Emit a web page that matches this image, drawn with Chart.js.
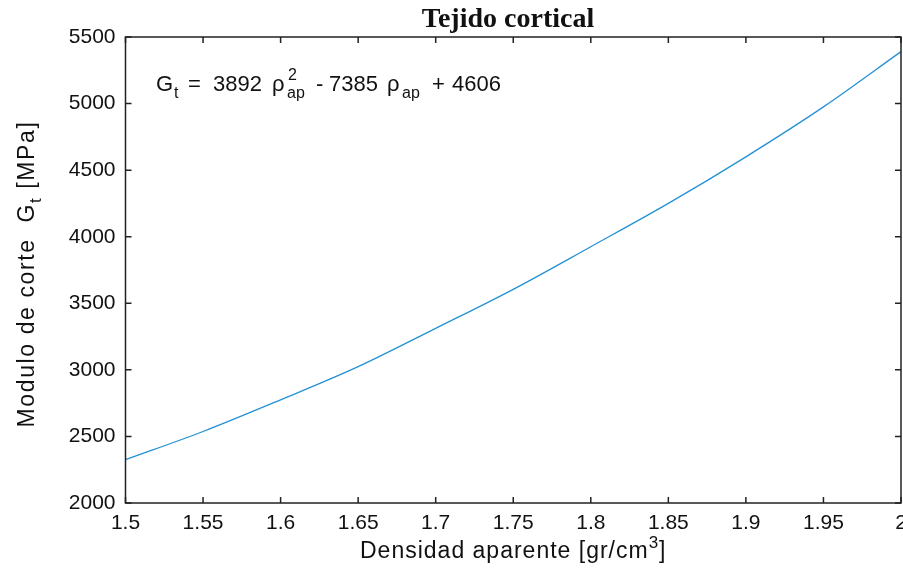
<!DOCTYPE html>
<html>
<head>
<meta charset="utf-8">
<script src="https://cdn.jsdelivr.net/npm/chart.js@4"></script>
<style>
  html, body { margin: 0; padding: 0; background: #fff; }
  #wrap { width: 903px; height: 570px; }
</style>
</head>
<body>
<div id="wrap"><canvas id="chart" width="903" height="570"></canvas></div>
<script>
// values
const density = [1.5, 1.55, 1.6, 1.65, 1.7, 1.75, 1.8, 1.85, 1.9, 1.95, 2.0];
const modulus = [2325, 2537, 2775, 3024, 3312, 3605, 3925, 4250, 4600, 4975, 5390];
const xTicks = [1.5, 1.55, 1.6, 1.65, 1.7, 1.75, 1.8, 1.85, 1.9, 1.95, 2];
const yTicks = [2000, 2500, 3000, 3500, 4000, 4500, 5000, 5500];

const labelFont = '"Liberation Sans", Arial, sans-serif';

// pieces of a line of text: [text, size, baseline shift]
function drawPieces(ctx, parts, x, y, spacing) {
    let cx = x;
    parts.forEach(p => {
        ctx.font = p[1] + 'px ' + labelFont;
        ctx.letterSpacing = (spacing || 0) + 'px';
        ctx.fillText(p[0], cx, y + p[2]);
        cx += ctx.measureText(p[0]).width;
    });
    ctx.letterSpacing = '0px';
    return cx - x;
}
function piecesWidth(ctx, parts, spacing) {
    let w = 0;
    parts.forEach(p => {
        ctx.font = p[1] + 'px ' + labelFont;
        ctx.letterSpacing = (spacing || 0) + 'px';
        w += ctx.measureText(p[0]).width;
    });
    ctx.letterSpacing = '0px';
    return w;
}

// box, inward ticks, titles and the equation
const decor = {
    id: 'decor',
    afterDraw(chart) {
        const ctx = chart.ctx;
        const a = chart.chartArea;
        const xs = chart.scales.x, ys = chart.scales.y;
        ctx.save();
        ctx.strokeStyle = '#222';
        ctx.lineWidth = 1.5;
        ctx.strokeRect(a.left, a.top, a.right - a.left, a.bottom - a.top);
        ctx.beginPath();
        xTicks.forEach(v => {
            const px = xs.getPixelForValue(v);
            ctx.moveTo(px, a.bottom); ctx.lineTo(px, a.bottom - 6);
            ctx.moveTo(px, a.top); ctx.lineTo(px, a.top + 6);
        });
        yTicks.forEach(v => {
            const py = ys.getPixelForValue(v);
            ctx.moveTo(a.left, py); ctx.lineTo(a.left + 6, py);
            ctx.moveTo(a.right, py); ctx.lineTo(a.right - 6, py);
        });
        ctx.stroke();

        ctx.fillStyle = '#111';
        ctx.textBaseline = 'alphabetic';
        // title
        ctx.font = 'bold 28px "Liberation Serif", "Times New Roman", serif';
        ctx.textAlign = 'center';
        ctx.fillText('Tejido cortical', 508, 27);

        ctx.textAlign = 'left';
        // x title
        const xt = [['Densidad aparente [gr/cm', 23, 0], ['3', 17, -10], [']', 23, 0]];
        const xw = piecesWidth(ctx, xt, 1);
        drawPieces(ctx, xt, (a.left + a.right) / 2 - xw / 2, 558, 1);

        // y title (rotated)
        ctx.save();
        ctx.translate(34, 274);
        ctx.rotate(-Math.PI / 2);
        const yt = [['Modulo de corte  G', 23, 0], ['t', 17, 7], [' [MPa]', 23, 0]];
        const yw = piecesWidth(ctx, yt, 1.6);
        drawPieces(ctx, yt, -yw / 2, 0, 1.6);
        ctx.restore();

        // equation
        const eq = [
            ['G', 22, 156, 0], ['t', 16, 174, 7], ['=', 22, 188, 0], ['3892', 22, 213, 0],
            ['\u03C1', 22, 272, 0], ['2', 16, 288, -11], ['ap', 16, 287, 7],
            ['-', 22, 316, 0], ['7385', 22, 329, 0], ['\u03C1', 22, 387, 0],
            ['ap', 16, 402, 7], ['+', 22, 432, 0], ['4606', 22, 452, 0]
        ];
        eq.forEach(p => {
            ctx.font = p[1] + 'px ' + labelFont;
            ctx.fillText(p[0], p[2], 91 + p[3]);
        });
        ctx.restore();
    }
};

new Chart(document.getElementById('chart'), {
    type: 'line',
    data: {
        datasets: [{
            data: density.map((d, i) => ({ x: d, y: modulus[i] })),
            borderColor: '#2491d6',
            borderWidth: 1.3,
            pointRadius: 0,
            fill: false,
            cubicInterpolationMode: 'monotone'
        }]
    },
    options: {
        responsive: false,
        animation: false,
        layout: { padding: { top: 37, right: 2, left: 0, bottom: 0 } },
        plugins: { legend: { display: false }, tooltip: { enabled: false } },
        scales: {
            x: {
                type: 'linear', min: 1.5, max: 2,
                afterFit: s => { s.height = 67; s.paddingRight = 0; s.paddingLeft = 0; },
                afterBuildTicks: s => { s.ticks = xTicks.map(v => ({ value: v })); },
                grid: { display: false, drawTicks: false },
                border: { display: false },
                ticks: {
                    padding: 8, color: '#111', maxRotation: 0, autoSkip: false,
                    font: { family: labelFont, size: 21 },
                    callback: v => String(Math.round(v * 100) / 100)
                }
            },
            y: {
                type: 'linear', min: 2000, max: 5500,
                afterFit: s => { s.width = 125.5; s.paddingTop = 0; s.paddingBottom = 0; },
                afterBuildTicks: s => { s.ticks = yTicks.map(v => ({ value: v })); },
                grid: { display: false, drawTicks: false },
                border: { display: false },
                ticks: {
                    padding: 10, color: '#111',
                    font: { family: labelFont, size: 21 },
                    callback: v => String(v)
                }
            }
        }
    },
    plugins: [decor]
});
</script>
</body>
</html>
